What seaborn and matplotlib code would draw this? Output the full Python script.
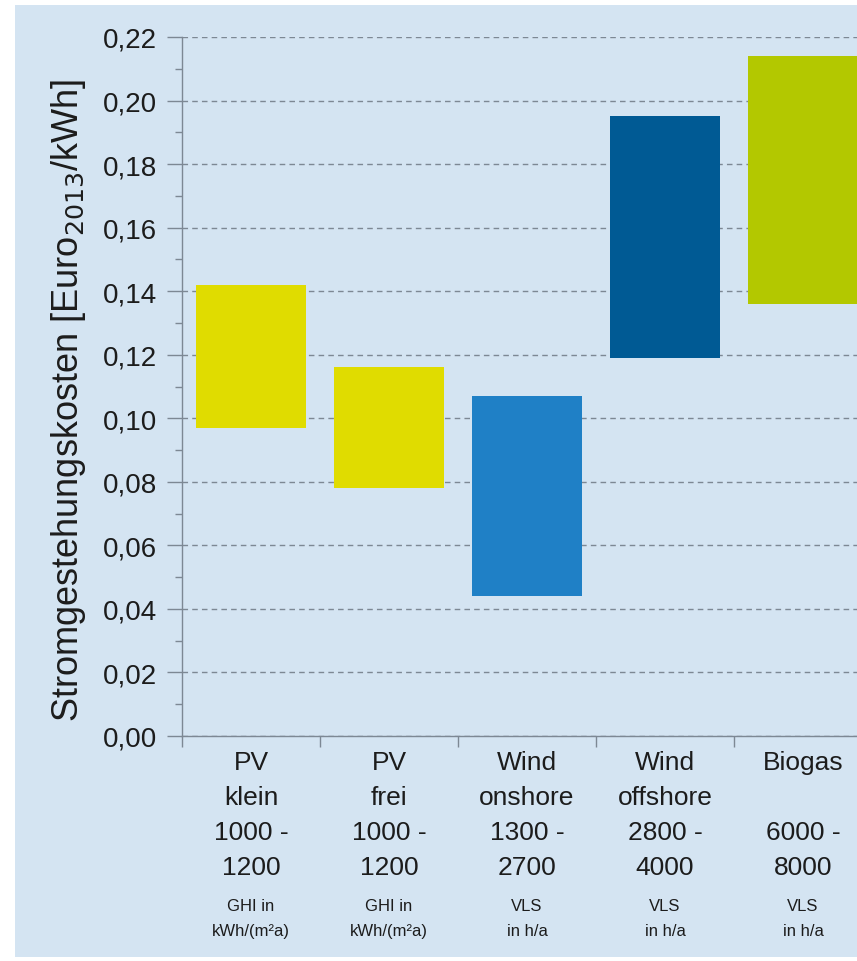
import numpy as np
import pandas as pd
import matplotlib
matplotlib.use("Agg")
import matplotlib.pyplot as plt
from matplotlib.patches import Rectangle
from matplotlib.ticker import MultipleLocator, FuncFormatter
import seaborn as sns

# Stromgestehungskosten je Technologie (Spanne min - max, Euro2013/kWh)
technologies = ["PV klein", "PV frei", "Wind onshore", "Wind offshore", "Biogas"]
cost_low = [0.097, 0.078, 0.044, 0.119, 0.136]
cost_high = [0.142, 0.116, 0.107, 0.195, 0.214]
bar_colors = ["#e0dc00", "#e0dc00", "#1f80c6", "#005a94", "#b3c800"]

tick_labels = [
    "PV\nklein\n1000 -\n1200",
    "PV\nfrei\n1000 -\n1200",
    "Wind\nonshore\n1300 -\n2700",
    "Wind\noffshore\n2800 -\n4000",
    "Biogas\n\n6000 -\n8000",
]
unit_labels = [
    "GHI in\nkWh/(m²a)",
    "GHI in\nkWh/(m²a)",
    "VLS\nin h/a",
    "VLS\nin h/a",
    "VLS\nin h/a",
]

BG = "#d4e4f2"
GRID = "#7d8894"
TEXT = "#1c1c1c"

sns.set_style("ticks")
plt.rcParams["font.family"] = ["Liberation Sans", "DejaVu Sans"]

df = pd.DataFrame({
    "Technologie": technologies,
    "Spanne": np.array(cost_high) - np.array(cost_low),
})

fig = plt.figure(figsize=(8.57, 9.62), dpi=100, facecolor="white")
fig.patches.append(Rectangle((15 / 857, 4 / 962), 1.0, 952 / 962,
                             transform=fig.transFigure, facecolor=BG,
                             edgecolor="none", zorder=-10))

ax = fig.add_axes([182 / 857, (962 - 737) / 962, 690 / 857, 699 / 962])
ax.set_facecolor("none")

sns.barplot(data=df, x="Technologie", y="Spanne", order=technologies,
            bottom=np.array(cost_low), width=0.8, color=bar_colors[0],
            saturation=1, ax=ax, zorder=3)
for patch, c in zip(ax.patches, bar_colors):
    patch.set_facecolor(c)
    patch.set_edgecolor("none")

ax.set_xlim(-0.5, 4.5)
ax.set_ylim(0, 0.22)

# y axis: major ticks every 0.02, minor every 0.01
ax.yaxis.set_major_locator(MultipleLocator(0.02))
ax.yaxis.set_minor_locator(MultipleLocator(0.01))
ax.yaxis.set_major_formatter(FuncFormatter(lambda v, p: f"{v:.2f}".replace(".", ",")))
ax.tick_params(axis="y", which="major", length=11, width=1, color=GRID,
               labelsize=20, labelcolor=TEXT, pad=7)
ax.tick_params(axis="y", which="minor", length=5, width=1, color=GRID)

ax.yaxis.grid(True, which="major", color=GRID, linestyle=(0, (4, 3)),
              linewidth=1.0, zorder=0)
ax.xaxis.grid(False)

# x axis: labels at bar centres, small ticks at category boundaries
ax.set_xticks(range(len(technologies)))
ax.set_xticklabels(tick_labels, fontsize=19, color=TEXT, linespacing=1.58)
ax.set_xticks(np.arange(-0.5, len(technologies)), minor=True)
ax.tick_params(axis="x", which="major", length=0, pad=10)
ax.tick_params(axis="x", which="minor", length=8, width=1, color=GRID)
ax.set_xlabel("")

for i, u in enumerate(unit_labels):
    ax.text(i, -0.232, u, transform=ax.get_xaxis_transform(), ha="center",
            va="top", fontsize=12, color=TEXT, linespacing=1.8)

ax.set_ylabel("Stromgestehungskosten [Euro$_{2013}$/kWh]", fontsize=26, color=TEXT)
ax.yaxis.set_label_coords(-0.136, 0.482)

for s in ["top", "right"]:
    ax.spines[s].set_visible(False)
for s in ["left", "bottom"]:
    ax.spines[s].set_color(GRID)
    ax.spines[s].set_linewidth(1)

fig.savefig("out.png", dpi=100, facecolor="white")
